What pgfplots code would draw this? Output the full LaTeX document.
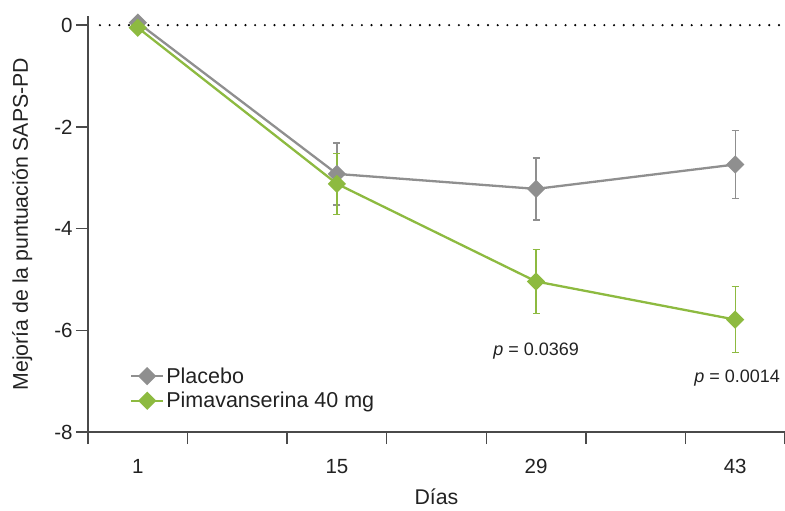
\documentclass[border=0pt]{standalone}
\usepackage{fontspec}
\setmainfont{Liberation Sans}
\usepackage{pgfplots}
\pgfplotsset{compat=1.18}
\definecolor{pgray}{HTML}{8F8F8F}
\definecolor{pgreen}{HTML}{8DBA40}
\definecolor{axgray}{HTML}{4A4A4A}
\definecolor{txt}{HTML}{222222}
\begin{document}
\begin{tikzpicture}
\begin{axis}[
  name=ax,
  scale only axis, width=697bp, height=416bp,
  xmin=-0.25, xmax=3.25, ymin=-8, ymax=0.18,
  clip=false,
  axis lines*=left,
  axis line style={axgray, line width=1.3bp},
  tick align=outside,
  major tick length=12bp,
  tick style={axgray, line width=1.3bp},
  xtick={-0.25,0.25,0.75,1.25,1.75,2.25,2.75,3.25},
  xticklabels={},
  extra x ticks={0,1,2,3},
  extra x tick labels={1,15,29,43},
  extra x tick style={major tick length=0pt, tick style={draw=none},
     tick label style={anchor=base, yshift=-41.5bp}},
  ytick={-8,-6,-4,-2,0},
  yticklabels={-8,-6,-4,-2,0},
  tick label style={font=\fontsize{20.5bp}{24bp}\selectfont, text=txt},
  xlabel={Días},
  ylabel={Mejoría de la puntuación SAPS-PD},
  label style={font=\fontsize{21.3bp}{25bp}\selectfont, text=txt},
  xlabel style={at={(axis description cs:0.5,-0.1731)}, anchor=base},
  ylabel style={at={(axis description cs:-0.0861,0.5)}, anchor=base},
  legend style={at={(axis description cs:0.06,0.16)}, anchor=north west,
     draw=none, fill=none, font=\fontsize{21.5bp}{25bp}\selectfont, text=txt,
     row sep=3.5bp, inner sep=0pt},
  legend cell align=left,
  legend image code/.code={
    \draw[#1, mark repeat=2, mark phase=2] plot coordinates {(0bp,0bp) (16bp,0bp) (32bp,0bp)};
  },
]
\addplot[forget plot, black, line width=2.4bp, line cap=round, dash pattern=on 0bp off 9.7bp]
  coordinates {(-0.19,0) (3.25,0)};

\addplot[pgray, line width=2.3bp, mark=square*, mark size=5.3bp,
  mark options={rotate=45, solid},
  error bars/.cd, y dir=both, y explicit,
  error bar style={line width=1.4bp, pgray},
  error mark options={rotate=90, mark size=3.5bp, line width=1.4bp, pgray}]
  coordinates {
    (0,0.05) +- (0,0)
    (1,-2.925) +- (0,0.61)
    (2,-3.22) +- (0,0.61)
    (3,-2.74) +- (0,0.67)
  };
\addlegendentry{Placebo}

\addplot[pgreen, line width=2.3bp, mark=square*, mark size=5.3bp,
  mark options={rotate=45, solid},
  error bars/.cd, y dir=both, y explicit,
  error bar style={line width=1.4bp, pgreen},
  error mark options={rotate=90, mark size=3.5bp, line width=1.4bp, pgreen}]
  coordinates {
    (0,-0.05) +- (0,0)
    (1,-3.12) +- (0,0.60)
    (2,-5.04) +- (0,0.63)
    (3,-5.79) +- (0,0.65)
  };
\addlegendentry{Pimavanserina 40 mg}

\node[font=\fontsize{18bp}{21bp}\selectfont, text=txt] at (axis cs:2,-6.41) {\textit{p} = 0.0369};
\node[font=\fontsize{18bp}{21bp}\selectfont, text=txt] at (axis cs:3.01,-6.94) {\textit{p} = 0.0014};
\end{axis}
\pgfresetboundingbox
\path[use as bounding box] ([xshift=-88bp,yshift=-79bp]ax.south west) rectangle ([yshift=16bp]ax.north east);
\end{tikzpicture}
\end{document}
